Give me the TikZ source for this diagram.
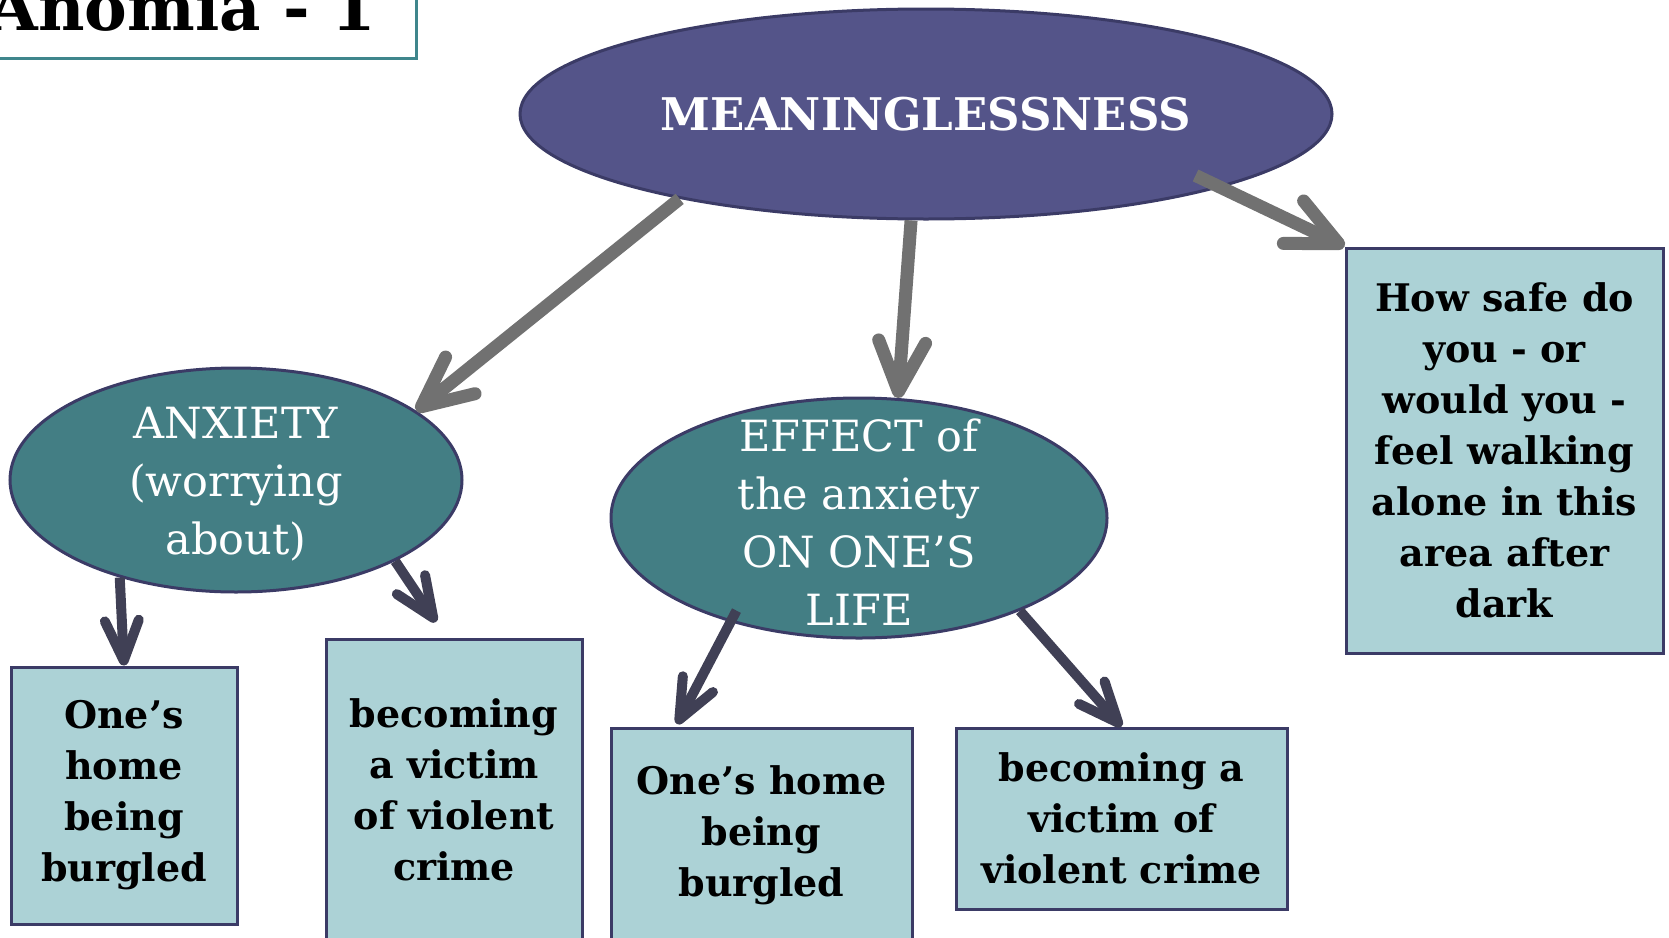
\documentclass[tikz,border=0pt]{standalone}
\usepackage{fontspec}
\setmainfont{DejaVu Serif}
\usetikzlibrary{shapes.geometric,arrows.meta}
\definecolor{plumfill}{HTML}{545489}
\definecolor{tealfill}{HTML}{437E84}
\definecolor{rimblue}{HTML}{3B3B66}
\definecolor{cardfill}{HTML}{ACD2D6}
\definecolor{shaftgray}{HTML}{717171}
\definecolor{shaftdark}{HTML}{404055}
\definecolor{titleteal}{HTML}{3F868C}
\tikzset{
  bubble/.style={ellipse, draw=rimblue, line width=3pt, inner sep=0pt},
  bubbletext/.style={text=white, align=center, inner sep=0pt, font=\fontsize{43}{58}\selectfont},
  card/.style={rectangle, draw=rimblue, fill=cardfill, line width=3pt, inner sep=0pt,
    align=center, font=\fontsize{38}{51}\selectfont\bfseries},
  bigarrow/.style={draw=shaftgray, line width=13pt, -{Straight Barb[length=50pt,width=47pt,round]}},
  smallarrow/.style={draw=shaftdark, line width=10pt, -{Straight Barb[length=40pt,width=34pt,round]}},
}

\begin{document}
\begin{tikzpicture}[x=1pt,y=-1pt]
        \useasboundingbox (0,0) rectangle (1669,937);
        \node (anomia) [anchor=south east, draw=titleteal, line width=3pt, inner xsep=40pt, inner ysep=28pt,
          text depth=0pt, font=\fontsize{64}{70}\selectfont\bfseries] at (418,60) {Anomia - 1};
        \node (meaning) [bubble, fill=plumfill, minimum width=812, minimum height=210] at (926,114) {};
        \node (meaningtxt) [bubbletext, font=\fontsize{45}{52}\selectfont\bfseries] at (meaning) {MEANINGLESSNESS};
        \node (anxiety) [bubble, fill=tealfill, minimum width=452, minimum height=224] at (236,480) {};
        \node (anxietytxt) [bubbletext] at (236,484) {ANXIETY\\(worrying\\about)};
        \node (effect) [bubble, fill=tealfill, minimum width=496, minimum height=240] at (859,518) {};
        \node (effecttxt) [bubbletext] at (859,522) {EFFECT of\\the anxiety\\ON ONE’S\\LIFE};
        \node (homeA) [card, minimum width=226, minimum height=257] at (124,795.5) {One’s\\home\\being\\burgled};
        \node (victimA) [card, minimum width=256, minimum height=302] at (454,790) {becoming\\a victim\\of violent\\crime};
        \node (homeB) [card, minimum width=301, minimum height=214] at (761.5,835) {One’s home\\being\\burgled};
        \node (victimB) [card, minimum width=331, minimum height=181] at (1121.5,818.5) {becoming a\\victim of\\violent crime};
        \node (howsafe) [card, minimum width=317, minimum height=405] at (1504.5,450.5) {How safe do\\you - or\\would you -\\feel walking\\alone in this\\area after\\dark};
        \coordinate (tipvictimA) at (436,622);
        \coordinate (tiphomeB) at (677,724);
        \draw (meaning.199) edge [bigarrow] (anxiety.21);
        \draw (meaning.262) edge [bigarrow] (effect.72);
        \draw (meaning.346.4) edge [bigarrow, shorten <=-28pt] (howsafe.north west);
        \draw (anxiety.220) edge [smallarrow] (homeA.north);
        \draw (anxiety.333) edge [smallarrow] (tipvictimA);
        \draw (effect.219.3) edge [smallarrow, shorten <=-13pt] (tiphomeB);
        \draw (effect.330) edge [smallarrow] (victimB.north);
\end{tikzpicture}
\end{document}
